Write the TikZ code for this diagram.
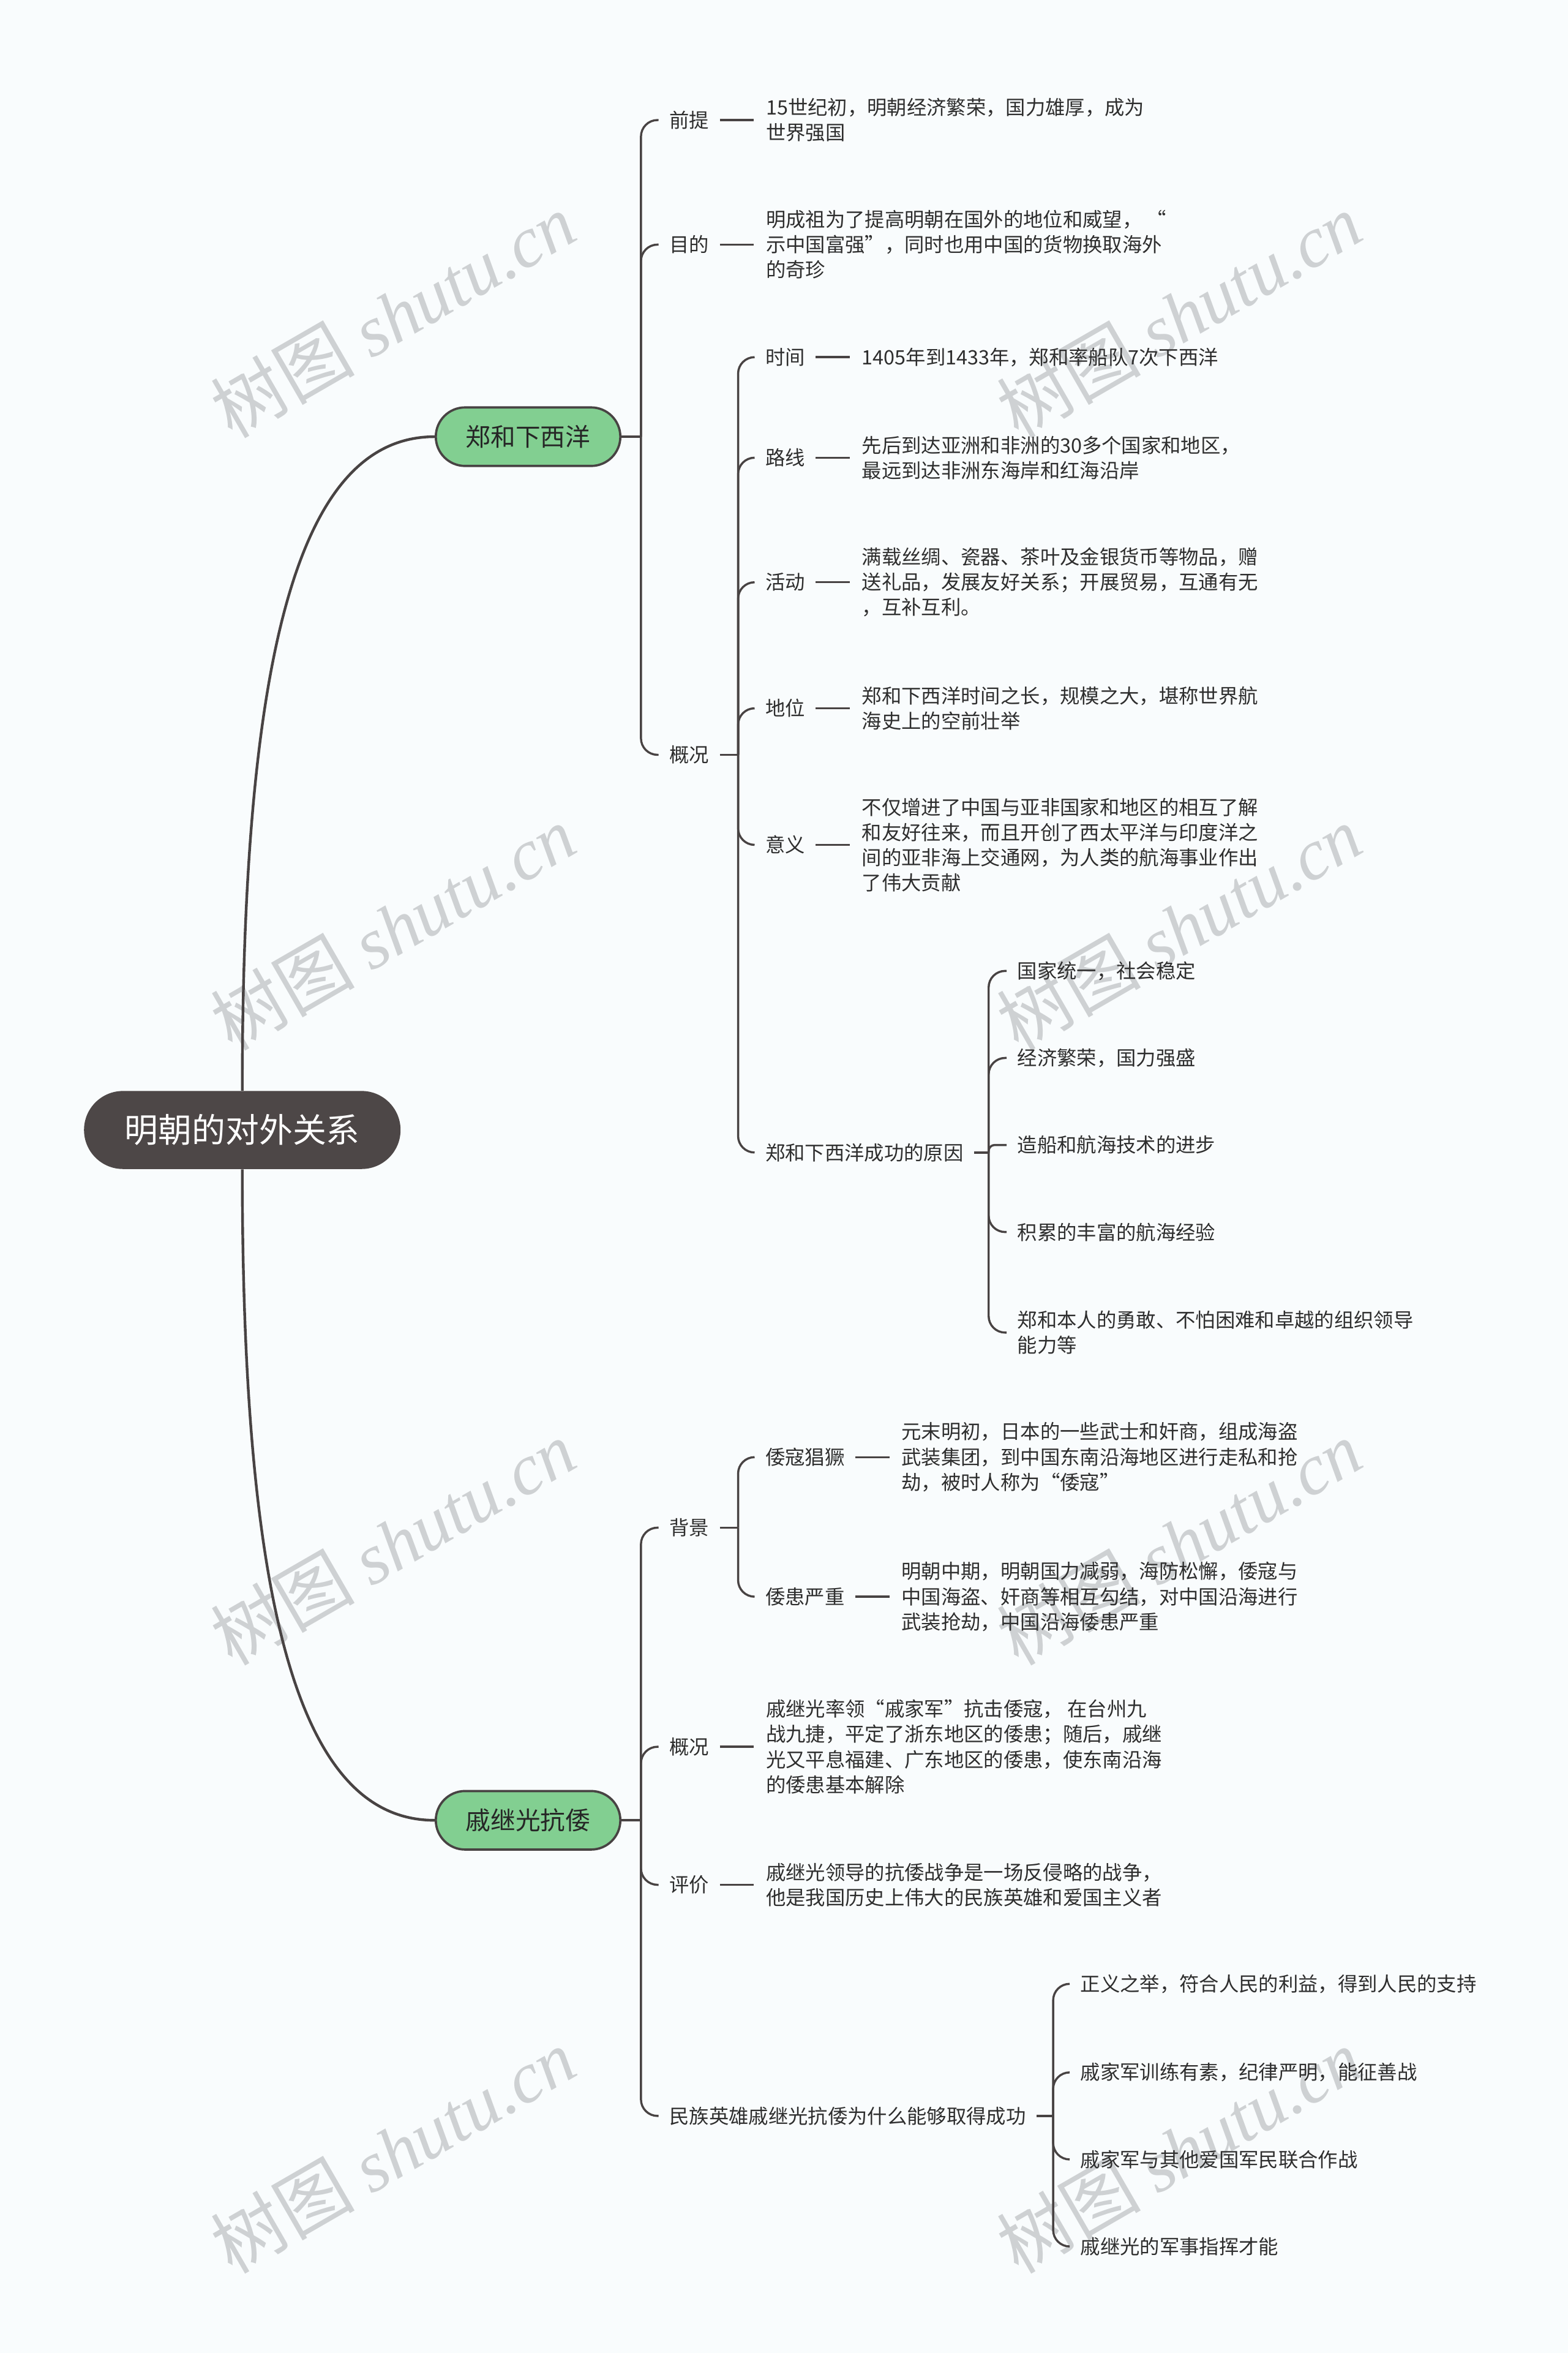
\documentclass[tikz,border=0pt]{standalone}
\usepackage{fontspec}
\setmainfont{Noto Sans CJK SC}
\newfontfamily\wmfont{Liberation Serif}
\usetikzlibrary{positioning,calc}
\definecolor{darkline}{RGB}{72,67,67}
\definecolor{rootgray}{RGB}{77,71,71}
\definecolor{softgreen}{RGB}{130,207,145}
\definecolor{textgray}{RGB}{46,46,46}
\definecolor{paper}{RGB}{249,252,253}
\definecolor{markgray}{RGB}{206,209,211}

\begin{document}
\begin{tikzpicture}[x=1pt,y=-1pt,node distance=37.6pt, every node/.style={font=\fontsize{13.2}{16.8}\selectfont, text=textgray, inner sep=0pt}]
\tikzstyle{root}=[rounded corners=26pt, fill=rootgray, minimum width=211pt, minimum height=52pt, text=white, font=\fontsize{22.4}{26}\selectfont]
\tikzstyle{topic}=[rounded corners=19.5pt, draw=darkline, line width=1.5pt, fill=softgreen, minimum width=123pt, minimum height=39pt, text=black!85, font=\fontsize{16.6}{20}\selectfont]
\tikzstyle{lbl}=[anchor=west]
\tikzstyle{leaf}=[align=left]
\tikzstyle{wire}=[draw=darkline, line width=1.4pt]
\tikzstyle{trunk}=[draw=darkline, line width=1.8pt]
\tikzstyle{link}=[wire, shorten <=7pt, shorten >=8pt]
\tikzstyle{hook}=[wire, rounded corners=11pt]
\tikzstyle{wmark}=[rotate=30, text=markgray, font=\fontsize{48}{48}\selectfont]
\fill[paper] (0,0) rectangle (1045,1568);
\useasboundingbox (0,0) rectangle (1045,1568);
\foreach \wx in {262,786} \foreach \wy in {210,618,1028,1433} \node[wmark] (wm-\wx-\wy) at (\wx,\wy) {树图 {\wmfont\itshape shutu.cn}};

\node[root] (root) at (161.5,753) {明朝的对外关系};
\node[topic] (zh) at (352,291) {郑和下西洋};
\node[topic] (qj) at (352,1213) {戚继光抗倭};
\draw[trunk] (root.north) .. controls +(0,-307) and +(-86,0) .. (zh.west);
\draw[trunk] (root.south) .. controls +(0,307) and +(-86,0) .. (qj.west);

% 郑和下西洋
\coordinate[right=13pt of zh] (s1); \draw[wire] (zh) -- (s1);
\node[lbl] (qt) at (446,80) {前提};
\node[leaf, right=of qt] (qt-t) {15世纪初，明朝经济繁荣，国力雄厚，成为\\世界强国};
\node[lbl] (md) at (446,163) {目的};
\node[leaf, right=of md] (md-t) {明成祖为了提高明朝在国外的地位和威望， “\\示中国富强”，同时也用中国的货物换取海外\\的奇珍};
\node[lbl] (gk1) at (446,503) {概况};
\draw[hook] (s1) |- ([xshift=-7pt]qt.west); \draw[hook] (s1) |- ([xshift=-7pt]md.west); \draw[hook] (s1) |- ([xshift=-7pt]gk1.west);
\draw[link] (qt) -- (qt-t); \draw[link] (md) -- (md-t);

\coordinate (s2) at (492,503); \draw[wire, shorten <=7pt] (gk1) -- (s2);
\node[lbl] (sj) at (510,238) {时间};
\node[leaf, right=of sj] (sj-t) {1405年到1433年，郑和率船队7次下西洋};
\node[lbl] (lx) at (510,305) {路线};
\node[leaf, right=of lx] (lx-t) {先后到达亚洲和非洲的30多个国家和地区，\\最远到达非洲东海岸和红海沿岸};
\node[lbl] (hd) at (510,388) {活动};
\node[leaf, right=of hd] (hd-t) {满载丝绸、瓷器、茶叶及金银货币等物品，赠\\送礼品，发展友好关系；开展贸易，互通有无\\，互补互利。};
\node[lbl] (dw) at (510,472) {地位};
\node[leaf, right=of dw] (dw-t) {郑和下西洋时间之长，规模之大，堪称世界航\\海史上的空前壮举};
\node[lbl] (yi) at (510,563) {意义};
\node[leaf, right=of yi] (yi-t) {不仅增进了中国与亚非国家和地区的相互了解\\和友好往来，而且开创了西太平洋与印度洋之\\间的亚非海上交通网，为人类的航海事业作出\\了伟大贡献};
\node[lbl] (cg) at (510,768) {郑和下西洋成功的原因};
\draw[hook] (s2) |- ([xshift=-7pt]sj.west); \draw[hook] (s2) |- ([xshift=-7pt]lx.west); \draw[hook] (s2) |- ([xshift=-7pt]hd.west);
\draw[hook] (s2) |- ([xshift=-7pt]dw.west); \draw[hook] (s2) |- ([xshift=-7pt]yi.west); \draw[hook] (s2) |- ([xshift=-7pt]cg.west);
\draw[link] (sj) -- (sj-t); \draw[link] (lx) -- (lx-t); \draw[link] (hd) -- (hd-t); \draw[link] (dw) -- (dw-t); \draw[link] (yi) -- (yi-t);

\coordinate (s3) at (659,768); \draw[wire, shorten <=7pt] (cg) -- (s3);
\node[lbl] (cg1) at (678,647) {国家统一，社会稳定};
\node[lbl] (cg2) at (678,705) {经济繁荣，国力强盛};
\node[lbl] (cg3) at (678,763) {造船和航海技术的进步};
\node[lbl] (cg4) at (678,821) {积累的丰富的航海经验};
\node[lbl, align=left] (cg5) at (678,888) {郑和本人的勇敢、不怕困难和卓越的组织领导\\能力等};
\draw[hook] (s3) |- ([xshift=-7pt]cg1.west); \draw[hook] (s3) |- ([xshift=-7pt]cg2.west); \draw[hook, rounded corners=4pt] (s3) |- ([xshift=-7pt]cg3.west);
\draw[hook] (s3) |- ([xshift=-7pt]cg4.west); \draw[hook] (s3) |- ([xshift=-7pt]cg5.west);

% 戚继光抗倭
\coordinate[right=13pt of qj] (s4); \draw[wire] (qj) -- (s4);
\node[lbl] (bj) at (446,1018) {背景};
\node[lbl] (gk2) at (446,1164) {概况};
\node[leaf, right=of gk2] (gk2-t) {戚继光率领“戚家军”抗击倭寇， 在台州九\\战九捷，平定了浙东地区的倭患；随后，戚继\\光又平息福建、广东地区的倭患，使东南沿海\\的倭患基本解除};
\node[lbl] (pj) at (446,1256) {评价};
\node[leaf, right=of pj] (pj-t) {戚继光领导的抗倭战争是一场反侵略的战争，\\他是我国历史上伟大的民族英雄和爱国主义者};
\node[lbl] (my) at (446,1410) {民族英雄戚继光抗倭为什么能够取得成功};
\draw[hook] (s4) |- ([xshift=-7pt]bj.west); \draw[hook] (s4) |- ([xshift=-7pt]gk2.west); \draw[hook] (s4) |- ([xshift=-7pt]pj.west); \draw[hook] (s4) |- ([xshift=-7pt]my.west);
\draw[link] (gk2) -- (gk2-t); \draw[link] (pj) -- (pj-t);

\coordinate (s5) at (492,1018); \draw[wire, shorten <=7pt] (bj) -- (s5);
\node[lbl] (wk) at (510,971) {倭寇猖獗};
\node[leaf, right=of wk] (wk-t) {元末明初，日本的一些武士和奸商，组成海盗\\武装集团，到中国东南沿海地区进行走私和抢\\劫，被时人称为“倭寇”};
\node[lbl] (wh) at (510,1064) {倭患严重};
\node[leaf, right=of wh] (wh-t) {明朝中期，明朝国力减弱，海防松懈，倭寇与\\中国海盗、奸商等相互勾结，对中国沿海进行\\武装抢劫，中国沿海倭患严重};
\draw[hook] (s5) |- ([xshift=-7pt]wk.west); \draw[hook] (s5) |- ([xshift=-7pt]wh.west);
\draw[link] (wk) -- (wk-t); \draw[link] (wh) -- (wh-t);

\coordinate (s6) at (702,1410); \draw[wire, shorten <=7pt] (my) -- (s6);
\node[lbl] (my1) at (720,1322) {正义之举，符合人民的利益，得到人民的支持};
\node[lbl] (my2) at (720,1381) {戚家军训练有素，纪律严明，能征善战};
\node[lbl] (my3) at (720,1439) {戚家军与其他爱国军民联合作战};
\node[lbl] (my4) at (720,1497) {戚继光的军事指挥才能};
\draw[hook] (s6) |- ([xshift=-7pt]my1.west); \draw[hook] (s6) |- ([xshift=-7pt]my2.west); \draw[hook] (s6) |- ([xshift=-7pt]my3.west); \draw[hook] (s6) |- ([xshift=-7pt]my4.west);
\end{tikzpicture}
\end{document}
